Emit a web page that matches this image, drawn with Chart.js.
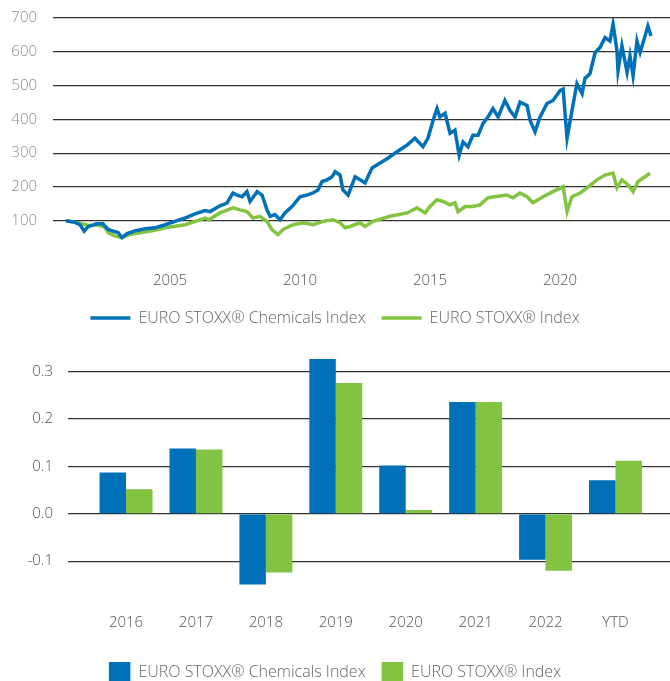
<!DOCTYPE html>
<html>
<head>
    <title>EURO STOXX Chemicals</title>
    <script src="https://cdn.jsdelivr.net/npm/chart.js"></script>
    <style>
        body {
            margin: 0;
            padding: 0;
            overflow: hidden;
            background: #ffffff;
            width: 670px;
            height: 681px;
        }
        #line-box {
            position: absolute;
            top: -7px;
            left: 0;
            width: 670px;
            height: 343px;
        }
        #bar-box {
            position: absolute;
            top: 324px;
            left: 0;
            width: 670px;
            height: 369px;
        }
    </style>
</head>
<body>
    <div id="line-box"><canvas id="lineChart"></canvas></div>
    <div id="bar-box"><canvas id="barChart"></canvas></div>

    <script>
        // --- performance since 2001 (rebased to 100) ---
        const chemYears = [2001.0, 2001.35, 2001.54, 2001.70, 2001.86, 2002.18, 2002.42, 2002.62, 2002.81, 2003.00,
            2003.15, 2003.35, 2003.65, 2004.04, 2004.42, 2004.81, 2005.19, 2005.58, 2005.96, 2006.35,
            2006.54, 2006.92, 2007.19, 2007.42, 2007.58, 2007.77, 2007.96, 2008.08, 2008.35, 2008.54,
            2008.73, 2008.85, 2009.04, 2009.23, 2009.42, 2009.69, 2010.00, 2010.27, 2010.50, 2010.69,
            2010.85, 2011.04, 2011.23, 2011.35, 2011.54, 2011.65, 2011.85, 2012.12, 2012.31, 2012.50,
            2012.77, 2013.08, 2013.38, 2013.73, 2014.12, 2014.42, 2014.73, 2014.92, 2015.12, 2015.27,
            2015.38, 2015.58, 2015.77, 2015.96, 2016.12, 2016.27, 2016.46, 2016.65, 2016.85, 2017.04,
            2017.23, 2017.42, 2017.62, 2017.88, 2018.08, 2018.27, 2018.46, 2018.73, 2018.85, 2019.04,
            2019.23, 2019.50, 2019.73, 2020.00, 2020.12, 2020.27, 2020.46, 2020.65, 2020.85, 2020.96,
            2021.15, 2021.35, 2021.54, 2021.73, 2021.92, 2022.04, 2022.19, 2022.23, 2022.38, 2022.58,
            2022.69, 2022.81, 2022.96, 2023.08, 2023.27, 2023.38, 2023.50];
        const chemValues = [100, 95, 88, 69, 83, 91, 91, 74, 69, 65,
            50, 62, 70, 76, 79, 88, 98, 108, 120, 130,
            127, 144, 152, 182, 176, 171, 186, 157, 186, 176,
            132, 113, 118, 103, 123, 142, 171, 176, 182, 191,
            216, 221, 230, 245, 235, 191, 176, 230, 221, 212,
            256, 271, 285, 304, 324, 344, 319, 344, 397, 432,
            407, 418, 359, 368, 294, 333, 319, 353, 353, 388,
            407, 432, 407, 456, 426, 407, 451, 441, 397, 363,
            407, 447, 456, 485, 490, 344, 426, 506, 476, 521,
            535, 598, 613, 642, 632, 682, 603, 544, 618, 539,
            588, 529, 632, 598, 647, 676, 647];

        const euroYears = [2001.0, 2001.5, 2001.9, 2002.2, 2002.5, 2002.62, 2002.85, 2003.15, 2003.5, 2003.9,
            2004.4, 2004.81, 2005.58, 2006.35, 2006.5, 2006.92, 2007.42, 2007.69, 2007.96, 2008.19,
            2008.46, 2008.73, 2008.92, 2009.15, 2009.35, 2009.73, 2010.12, 2010.5, 2010.88, 2011.27,
            2011.54, 2011.73, 2011.92, 2012.31, 2012.5, 2012.81, 2013.46, 2014.12, 2014.5, 2014.81,
            2015.0, 2015.27, 2015.5, 2015.77, 2015.96, 2016.08, 2016.35, 2016.65, 2016.92, 2017.23,
            2017.96, 2018.19, 2018.46, 2018.73, 2018.96, 2019.35, 2019.73, 2020.12, 2020.27, 2020.46,
            2020.77, 2021.04, 2021.42, 2021.73, 2022.04, 2022.19, 2022.38, 2022.62, 2022.81, 2023.0,
            2023.27, 2023.46];
        const euroValues = [100, 93, 85, 88, 80, 65, 56, 50, 60, 65,
            72, 79, 88, 108, 103, 123, 138, 132, 127, 108,
            113, 98, 74, 59, 74, 88, 94, 88, 98, 103,
            94, 79, 83, 94, 83, 98, 113, 123, 138, 123,
            142, 162, 157, 147, 153, 127, 142, 142, 147, 168,
            176, 168, 182, 171, 153, 171, 186, 201, 127, 171,
            182, 197, 221, 235, 241, 197, 221, 206, 186, 216,
            230, 241];

        const lineYTicks = [100, 200, 300, 400, 500, 600, 700];
        const lineXTicks = [2005, 2010, 2015, 2020];

        // --- calendar year returns ---
        const barCategories = ['2016', '2017', '2018', '2019', '2020', '2021', '2022', 'YTD'];
        const barChem = [0.087, 0.138, -0.149, 0.327, 0.102, 0.236, -0.097, 0.071];
        const barEuro = [0.052, 0.136, -0.124, 0.276, 0.008, 0.236, -0.120, 0.112];
        const barYTicks = [-0.1, 0.0, 0.1, 0.2, 0.3];

        const seriesNames = ['EURO STOXX® Chemicals Index', 'EURO STOXX® Index'];
        const BLUE = '#0071b9';
        const GREEN = '#82c341';
        const GRID = '#333333';
        const FONT = "'Open Sans', sans-serif";

        Chart.defaults.font.family = FONT;
        Chart.defaults.font.size = 15;
        Chart.defaults.font.weight = '300';

        new Chart(document.getElementById('lineChart'), {
            type: 'line',
            data: {
                datasets: [{
                    label: seriesNames[0],
                    data: chemYears.map((x, i) => ({ x: x, y: chemValues[i] })),
                    borderColor: BLUE,
                    backgroundColor: BLUE,
                    borderWidth: 3.5,
                    pointRadius: 0,
                    tension: 0
                }, {
                    label: seriesNames[1],
                    data: euroYears.map((x, i) => ({ x: x, y: euroValues[i] })),
                    borderColor: GREEN,
                    backgroundColor: GREEN,
                    borderWidth: 3.5,
                    pointRadius: 0,
                    tension: 0
                }]
            },
            options: {
                responsive: true,
                maintainAspectRatio: false,
                animation: false,
                layout: { padding: { top: 17, right: 0, left: 0, bottom: 0 } },
                plugins: {
                    tooltip: { enabled: false },
                    legend: {
                        position: 'bottom',
                        labels: {
                            usePointStyle: true,
                            pointStyle: 'line',
                            pointStyleWidth: 40,
                            padding: 16,
                            color: '#666666',
                            font: { size: 16 }
                        }
                    }
                },
                scales: {
                    x: {
                        type: 'linear',
                        min: 2000.5,
                        max: 2024.23,
                        afterBuildTicks: s => { s.ticks = lineXTicks.map(v => ({ value: v })); },
                        afterFit: s => { s.height = 39.5; },
                        grid: { display: false },
                        border: { display: false },
                        ticks: {
                            padding: 9,
                            color: '#555555',
                            maxRotation: 0,
                            callback: v => String(v)
                        }
                    },
                    y: {
                        min: 0,
                        max: 700,
                        afterBuildTicks: s => { s.ticks = lineYTicks.map(v => ({ value: v })); },
                        afterFit: s => { s.width = 53; },
                        grid: { color: GRID, lineWidth: 1.2, drawTicks: false },
                        border: { display: false },
                        ticks: {
                            padding: 16,
                            color: '#8c8c8c',
                            callback: v => String(v)
                        }
                    }
                }
            }
        });

        new Chart(document.getElementById('barChart'), {
            type: 'bar',
            data: {
                labels: barCategories.map((c, i) => i),
                datasets: [{
                    label: seriesNames[0],
                    data: barChem,
                    backgroundColor: BLUE,
                    borderWidth: 0
                }, {
                    label: seriesNames[1],
                    data: barEuro,
                    backgroundColor: GREEN,
                    borderWidth: 0
                }]
            },
            options: {
                responsive: true,
                maintainAspectRatio: false,
                animation: false,
                categoryPercentage: 0.757,
                barPercentage: 1.0,
                layout: { padding: { top: 10, right: 0, left: 0, bottom: 0 } },
                plugins: {
                    tooltip: { enabled: false },
                    legend: {
                        position: 'bottom',
                        labels: {
                            boxWidth: 21.5,
                            boxHeight: 21,
                            padding: 16,
                            color: '#666666',
                            font: { size: 16 }
                        }
                    }
                },
                scales: {
                    x: {
                        type: 'linear',
                        offset: false,
                        min: -0.83,
                        max: 7.78,
                        afterBuildTicks: s => { s.ticks = barCategories.map((c, i) => ({ value: i })); },
                        afterFit: s => { s.height = 37.4; },
                        grid: { display: false },
                        border: { display: false },
                        ticks: {
                            padding: -3,
                            color: '#555555',
                            maxRotation: 0,
                            callback: v => barCategories[v]
                        }
                    },
                    y: {
                        min: -0.2,
                        max: 0.35,
                        afterBuildTicks: s => { s.ticks = barYTicks.map(v => ({ value: v })); },
                        afterFit: s => { s.width = 68; },
                        grid: { color: GRID, lineWidth: 1.2, drawTicks: false },
                        border: { display: false },
                        ticks: {
                            padding: 15,
                            color: '#555555',
                            callback: v => v.toFixed(1)
                        }
                    }
                }
            }
        });
    </script>
</body>
</html>
